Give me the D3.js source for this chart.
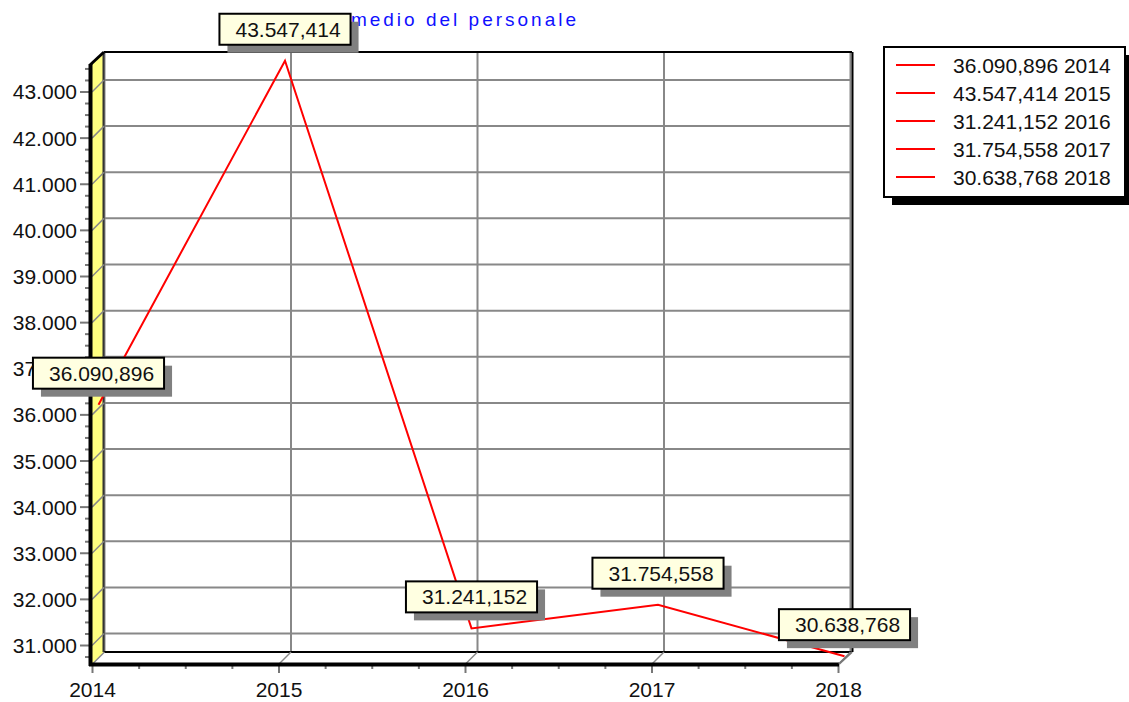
<!DOCTYPE html>
<head>
<meta charset="utf-8">
<script src="https://d3js.org/d3.v7.min.js"></script>
<style>
  body { margin: 0; background: #fff; }
  text { font-family: "Liberation Sans", Arial, sans-serif; }
</style>
<title>Costo medio del personale</title>
</head>
<body>
<div id="vis"></div>
<script>
// data
const years = ['2014', '2015', '2016', '2017', '2018']
const values = [36090.896, 43547.414, 31241.152, 31754.558, 30638.768]
const valueLabels = ['36.090,896', '43.547,414', '31.241,152', '31.754,558', '30.638,768']
const yTicks = [31000, 32000, 33000, 34000, 35000, 36000, 37000, 38000, 39000, 40000, 41000, 42000, 43000]
const yTickLabels = ['31.000', '32.000', '33.000', '34.000', '35.000', '36.000', '37.000', '38.000', '39.000', '40.000', '41.000', '42.000', '43.000']
const title = 'Costo medio del personale'

const width = 1129
const height = 702

// 3d box : front plane + depth offset
const depth = 12
const front = { left: 92, right: 839, top: 64, bottom: 664 }

const x = d3.scalePoint().domain(years).range([92.5, 838.5])
const y = d3.scaleLinear().domain([30599, 43607]).range([front.bottom, front.top])

const svg = d3.select('#vis').append('svg')
  .attr('width', width)
  .attr('height', height)

const grid = '#888'

// left wall (yellow)
svg.append('polygon')
  .attr('points', [[front.left, front.top], [front.left + depth, front.top - depth],
    [front.left + depth, front.bottom - depth], [front.left, front.bottom]].join(' '))
  .attr('fill', '#ffff80')

// horizontal gridlines on back wall
svg.append('g').selectAll('line')
  .data(yTicks)
  .join('line')
  .attr('x1', front.left + depth).attr('x2', front.right + depth)
  .attr('y1', d => y(d) - depth).attr('y2', d => y(d) - depth)
  .attr('stroke', grid).attr('stroke-width', 2)

// vertical gridlines on back wall
svg.append('g').selectAll('line')
  .data(years)
  .join('line')
  .attr('x1', d => x(d) + depth).attr('x2', d => x(d) + depth)
  .attr('y1', front.top - depth).attr('y2', front.bottom - depth)
  .attr('stroke', grid).attr('stroke-width', 2)

// back wall frame
svg.append('line')
  .attr('x1', front.left + depth).attr('x2', front.right + depth + 1)
  .attr('y1', front.top - depth).attr('y2', front.top - depth)
  .attr('stroke', '#000').attr('stroke-width', 2)
svg.append('line')
  .attr('x1', front.right + depth + 1.5).attr('x2', front.right + depth + 1.5)
  .attr('y1', front.top - depth).attr('y2', front.bottom - depth)
  .attr('stroke', '#000').attr('stroke-width', 2)
svg.append('line')
  .attr('x1', front.left + depth - 0.5).attr('x2', front.left + depth - 0.5)
  .attr('y1', front.top - depth).attr('y2', front.bottom - depth)
  .attr('stroke', '#333').attr('stroke-width', 2)
svg.append('line')
  .attr('x1', front.left + depth).attr('x2', front.right + depth + 1)
  .attr('y1', front.bottom - depth).attr('y2', front.bottom - depth)
  .attr('stroke', '#000').attr('stroke-width', 2)

// y axis : major ticks, connectors, minor ticks, labels
const yAxis = svg.append('g')
yAxis.selectAll('line.major')
  .data(yTicks)
  .join('line')
  .attr('class', 'major')
  .attr('x1', 80).attr('x2', front.left)
  .attr('y1', d => y(d)).attr('y2', d => y(d))
  .attr('stroke', '#777').attr('stroke-width', 2)
yAxis.selectAll('line.conn')
  .data(yTicks)
  .join('line')
  .attr('class', 'conn')
  .attr('x1', front.left).attr('x2', front.left + depth)
  .attr('y1', d => y(d)).attr('y2', d => y(d) - depth)
  .attr('stroke', grid).attr('stroke-width', 1.5)
const yMinor = d3.range(30750, 43600, 250).filter(v => v % 1000 !== 0)
yAxis.selectAll('line.minor')
  .data(yMinor)
  .join('line')
  .attr('class', 'minor')
  .attr('x1', 85).attr('x2', front.left)
  .attr('y1', d => y(d)).attr('y2', d => y(d))
  .attr('stroke', '#777').attr('stroke-width', 2)
yAxis.selectAll('text')
  .data(yTicks)
  .join('text')
  .attr('x', 77)
  .attr('y', d => y(d) + 7.5)
  .attr('text-anchor', 'end')
  .attr('font-size', 21)
  .attr('fill', '#111')
  .text((d, i) => yTickLabels[i])

// x axis : ticks, connectors, labels
const xAxis = svg.append('g')
xAxis.selectAll('line.major')
  .data(years)
  .join('line')
  .attr('class', 'major')
  .attr('x1', d => x(d)).attr('x2', d => x(d))
  .attr('y1', front.bottom).attr('y2', front.bottom + 9)
  .attr('stroke', '#777').attr('stroke-width', 2)
xAxis.selectAll('line.conn')
  .data(years)
  .join('line')
  .attr('class', 'conn')
  .attr('x1', d => x(d)).attr('x2', d => x(d) + depth)
  .attr('y1', front.bottom).attr('y2', front.bottom - depth)
  .attr('stroke', grid).attr('stroke-width', 1.5)
const step = x.step()
const xMinor = []
years.slice(0, -1).forEach(yr => { [1, 2, 3].forEach(k => xMinor.push(x(yr) + step * k / 4)) })
xAxis.selectAll('line.minor')
  .data(xMinor)
  .join('line')
  .attr('class', 'minor')
  .attr('x1', d => d).attr('x2', d => d)
  .attr('y1', front.bottom).attr('y2', front.bottom + 5)
  .attr('stroke', '#777').attr('stroke-width', 2)
xAxis.selectAll('text')
  .data(years)
  .join('text')
  .attr('x', d => x(d))
  .attr('y', 697)
  .attr('text-anchor', 'middle')
  .attr('font-size', 21)
  .attr('fill', '#111')
  .text(d => d)

// front axis lines
svg.append('line')
  .attr('x1', front.left - 1.5).attr('x2', front.left - 1.5)
  .attr('y1', front.top).attr('y2', front.bottom + 2)
  .attr('stroke', '#000').attr('stroke-width', 4)
svg.append('line')
  .attr('x1', front.left - 2).attr('x2', front.left + depth)
  .attr('y1', front.top + 1).attr('y2', front.top - depth)
  .attr('stroke', '#000').attr('stroke-width', 3)
svg.append('line')
  .attr('x1', front.left - 3).attr('x2', front.right)
  .attr('y1', front.bottom + 0.5).attr('y2', front.bottom + 0.5)
  .attr('stroke', '#000').attr('stroke-width', 4)
svg.append('line')
  .attr('x1', front.right).attr('x2', front.right + depth + 1)
  .attr('y1', front.bottom).attr('y2', front.bottom - depth)
  .attr('stroke', '#777').attr('stroke-width', 2)

// title
svg.append('text')
  .attr('x', 278)
  .attr('y', 26)
  .attr('font-size', 19)
  .attr('letter-spacing', 3)
  .attr('fill', '#1010ff')
  .text(title)

// series line, drawn at mid depth
const mid = depth / 2
const line = d3.line()
  .x((d, i) => x(years[i]) + mid)
  .y(d => y(d) - mid)
svg.append('path')
  .datum(values)
  .attr('d', line)
  .attr('fill', 'none')
  .attr('stroke', '#ff0000')
  .attr('stroke-width', 2)

// marks
const marks = svg.append('g').selectAll('g')
  .data(values)
  .join('g')
  .attr('transform', (d, i) => `translate(${x(years[i]) + mid},${y(d) - mid - 16})`)
marks.each(function (d, i) {
  const g = d3.select(this)
  const t = g.append('text')
    .attr('font-size', 21)
    .attr('fill', '#111')
    .attr('text-anchor', 'middle')
    .attr('y', -8)
    .text(valueLabels[i])
  const w = t.node().getComputedTextLength() + 26
  const h = 31
  g.insert('rect', 'text')
    .attr('x', -w / 2 + 8).attr('y', -h + 8)
    .attr('width', w).attr('height', h)
    .attr('fill', '#808080')
  g.insert('rect', 'text')
    .attr('x', -w / 2).attr('y', -h)
    .attr('width', w).attr('height', h)
    .attr('fill', '#ffffe1')
    .attr('stroke', '#000')
    .attr('stroke-width', 2)
  t.attr('x', 3)
})

// legend
const legend = svg.append('g').attr('transform', 'translate(884,47)')
legend.append('rect')
  .attr('x', 8).attr('y', 8)
  .attr('width', 241).attr('height', 150)
  .attr('fill', '#000')
legend.append('rect')
  .attr('x', 0).attr('y', 0)
  .attr('width', 241).attr('height', 150)
  .attr('fill', '#fff')
  .attr('stroke', '#000')
  .attr('stroke-width', 2)
const rows = legend.selectAll('g.row')
  .data(values)
  .join('g')
  .attr('class', 'row')
  .attr('transform', (d, i) => `translate(0,${18 + i * 28})`)
rows.append('line')
  .attr('x1', 12).attr('x2', 51)
  .attr('y1', 0).attr('y2', 0)
  .attr('stroke', '#ff0000').attr('stroke-width', 2)
rows.append('text')
  .attr('x', 69)
  .attr('y', 7.5)
  .attr('font-size', 21)
  .attr('fill', '#111')
  .text((d, i) => valueLabels[i] + ' ' + years[i])
</script>
</body>
